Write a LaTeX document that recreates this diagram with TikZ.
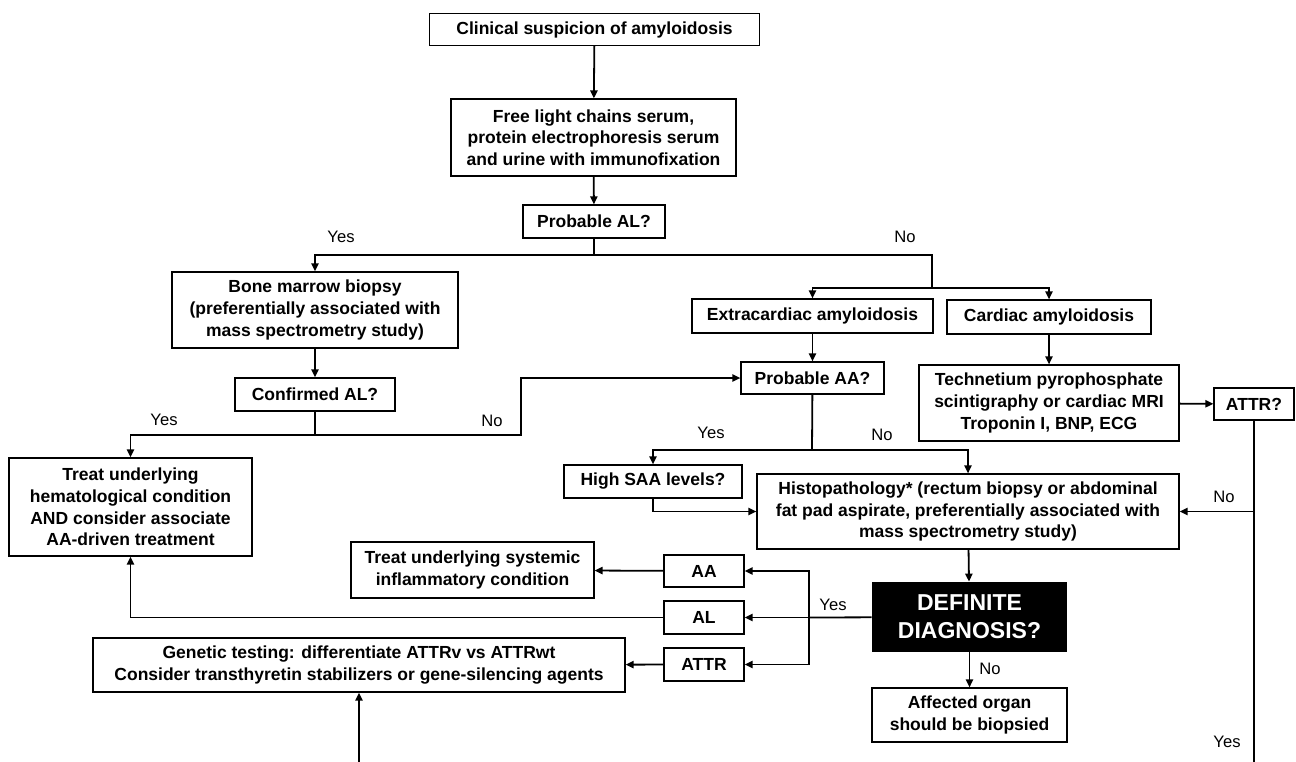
\documentclass[tikz,border=0pt]{standalone}
\usepackage{fontspec}
\setmainfont{Liberation Sans}
\usetikzlibrary{arrows.meta}
\tikzset{
    box/.style = {rectangle, draw=black, line width=0.6pt, align=center, inner sep=1pt, font=\bfseries\fontsize{8.75}{10.85}\selectfont},
    decbox/.style = {rectangle, fill=black, text=white, align=center, inner sep=1pt, font=\bfseries\fontsize{11.5}{14}\selectfont},
    lbl/.style = {inner sep=0pt, font=\fontsize{8.3}{10}\selectfont},
    edgen/.style = {-{Triangle[length=4pt,width=3.6pt]}, line width=0.9pt},
    edgel/.style = {line width=0.9pt}, % no tip
}

\begin{document}
\begin{tikzpicture}[x=0.5pt,y=-0.5pt]
\path[use as bounding box, clip] (0,0) rectangle (1296,761);
%
\node[box, minimum width=165pt, minimum height=16pt] at (594.5,29.5) (clin) {Clinical suspicion of amyloidosis};
\node[box, minimum width=142.5pt, minimum height=38.5pt] at (593.5,137.5) (flc) {Free light chains serum,\\protein electrophoresis serum\\and urine with immunofixation};
\node[box, minimum width=71pt, minimum height=16.5pt] at (594,221.5) (pal) {Probable AL?};
\node[box, minimum width=143pt, minimum height=38pt] at (315,310) (bmb) {Bone marrow biopsy\\(preferentially associated with\\mass spectrometry study)};
\node[box, minimum width=80pt, minimum height=16.5pt] at (315,394.5) (cal) {Confirmed AL?};
\node[box, minimum width=121.5pt, minimum height=49pt] at (130.5,507) (trh) {Treat underlying\\hematological condition\\AND consider associate\\AA-driven treatment};
\node[box, minimum width=120.5pt, minimum height=17pt] at (812.5,316) (extra) {Extracardiac amyloidosis};
\node[box, minimum width=102pt, minimum height=17pt] at (1049,317) (card) {Cardiac amyloidosis};
\node[box, minimum width=71.5pt, minimum height=16pt] at (812.5,378) (paa) {Probable AA?};
\node[box, minimum width=130pt, minimum height=38pt] at (1049,403) (tech) {Technetium pyrophosphate\\scintigraphy or cardiac MRI\\Troponin I, BNP, ECG};
\node[box, minimum width=40pt, minimum height=16pt] at (1254,404) (attrq) {ATTR?};
\node[box, minimum width=89pt, minimum height=16.5pt] at (653,481.5) (hsaa) {High SAA levels?};
\node[box, minimum width=211pt, minimum height=37.5pt] at (968,511.5) (histo) {Histopathology* (rectum biopsy or abdominal\\fat pad aspirate, preferentially associated with\\mass spectrometry study)};
\node[decbox, minimum width=97.5pt, minimum height=35pt] at (969.5,617) (defd) {DEFINITE\\DIAGNOSIS?};
\node[box, minimum width=97.5pt, minimum height=27pt] at (969.5,715) (aff) {Affected organ\\should be biopsied};
\node[box, minimum width=40pt, minimum height=16pt] at (704,571) (aa) {AA};
\node[box, minimum width=40pt, minimum height=16.5pt] at (704,617.5) (al) {AL};
\node[box, minimum width=40pt, minimum height=16.5pt] at (704,664.5) (attr) {ATTR};
\node[box, minimum width=121.5pt, minimum height=28pt] at (472.5,570) (tsys) {Treat underlying systemic\\inflammatory condition};
\node[box, minimum width=266pt, minimum height=27pt] at (359,665) (gen) {Genetic testing: differentiate ATTRv vs ATTRwt\\Consider transthyretin stabilizers or gene-silencing agents};
%
\coordinate (pal-j) at (594,255);
\coordinate (no-j) at (932,288);
\coordinate (cal-j) at (315,435);
\coordinate (paa-j) at (812,450);
\coordinate (yes-j) at (809,617.5);
\coordinate (attr-no) at (attrq |- histo);
\coordinate (attr-yes) at (1254,800);
%
\draw[edgen] (clin) -- (flc);
\draw[edgen] (flc) -- (pal);
\draw[edgen] (pal) -- (pal-j) -| (bmb);
\draw[edgel] (pal-j) -| (no-j);
\draw[edgen] (no-j) -| (extra);
\draw[edgen] (no-j) -| (card);
\draw[edgen] (bmb) -- (cal);
\draw[edgel] (cal) -- (cal-j);
\draw[edgen] (cal-j) -| (trh);
\draw[edgen] (cal-j) -- ++(206,0) |- (paa);
\draw[edgen] (extra) -- (paa);
\draw[edgen] (card) -- (tech);
\draw[edgen] (tech) -- (attrq);
\draw[edgel] (paa) -- (paa-j);
\draw[edgen] (paa-j) -| (hsaa);
\draw[edgen] (paa-j) -| (histo);
\draw[edgen] (hsaa) |- (histo);
\draw[edgen] (attr-no) -- (histo);
\draw[edgen] (attrq) -- (attr-yes) -| (gen);
\draw[edgen] (histo) -- (defd);
\draw[edgen] (defd) -- (aff);
\draw[edgel] (defd) -- (yes-j);
\draw[edgen] (yes-j) |- (aa);
\draw[edgen] (yes-j) -- (al);
\draw[edgen] (yes-j) |- (attr);
\draw[edgen] (aa) -- (tsys);
\draw[edgen] (al) -| (trh);
\draw[edgen] (attr) -- (gen);
%
\node[lbl] at (341,237) {Yes};
\node[lbl] at (905,237) {No};
\node[lbl] at (164,420) {Yes};
\node[lbl] at (492,421) {No};
\node[lbl] at (711,433) {Yes};
\node[lbl] at (882,435) {No};
\node[lbl] at (1224,497) {No};
\node[lbl] at (833,605) {Yes};
\node[lbl] at (990,669) {No};
\node[lbl] at (1227,742) {Yes};
\end{tikzpicture}
\end{document}
